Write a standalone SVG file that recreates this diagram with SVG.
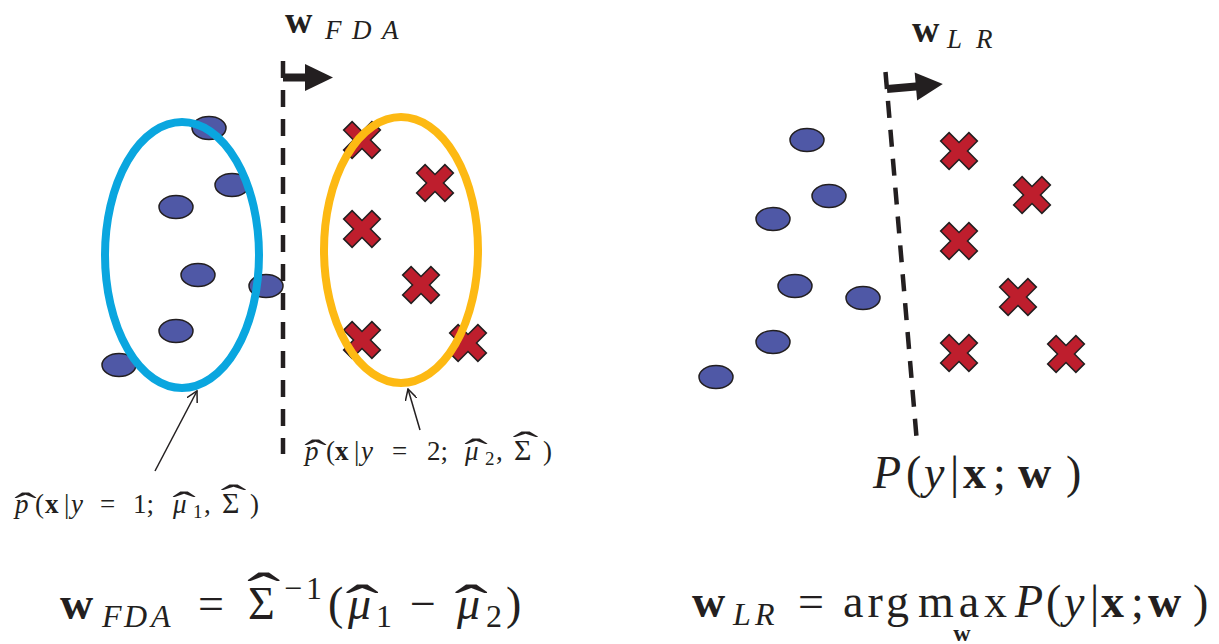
<svg xmlns="http://www.w3.org/2000/svg" width="1219" height="644" viewBox="0 0 1219 644">
<defs>
<style>
.m{font-family:"Liberation Serif","DejaVu Serif",serif;fill:#231F20}
.b{font-weight:bold}
.i{font-style:italic}
.dot{fill:#4F58A6;stroke:#231F20;stroke-width:1.5}
.crs{fill:#BE1E2D;stroke:#231F20;stroke-width:1.5;stroke-linejoin:miter}
.dash{stroke:#231F20;stroke-width:4.5;stroke-dasharray:17 12;fill:none}
.thin{stroke:#231F20;stroke-width:1.5;fill:none}
</style>
<polygon id="x" points="-6,-20 6,-20 6,-6 20,-6 20,6 6,6 6,20 -6,20 -6,6 -20,6 -20,-6 -6,-6" transform="rotate(45)"/>
<text id="hat" class="m" font-size="40" x="0" y="0">ˆ</text>
<marker id="open" viewBox="0 0 12 12" refX="11" refY="6" markerWidth="12" markerHeight="12" markerUnits="userSpaceOnUse" orient="auto">
<path d="M0,0 L11,6 L0,12" fill="none" stroke="#231F20" stroke-width="1.5"/>
</marker>
</defs>
<rect width="1219" height="644" fill="#fff"/>

<g id="left-class1-points">
<ellipse class="dot" cx="209" cy="128" rx="17" ry="11.5"/>
<ellipse class="dot" cx="232" cy="185" rx="17" ry="11.5"/>
<ellipse class="dot" cx="176" cy="207" rx="17" ry="11.5"/>
<ellipse class="dot" cx="198" cy="275" rx="17" ry="11.5"/>
<ellipse class="dot" cx="266" cy="286" rx="17" ry="11.5"/>
<ellipse class="dot" cx="176" cy="331" rx="17" ry="11.5"/>
<ellipse class="dot" cx="119" cy="365" rx="17" ry="11.5"/>
</g>
<g id="left-class2-points">
<use href="#x" class="crs" x="362" y="140"/>
<use href="#x" class="crs" x="435" y="183"/>
<use href="#x" class="crs" x="362" y="229"/>
<use href="#x" class="crs" x="421" y="285"/>
<use href="#x" class="crs" x="362" y="340"/>
<use href="#x" class="crs" x="468" y="343"/>
</g>
<g id="gauss1">
<ellipse cx="182" cy="255" rx="77" ry="133" fill="none" stroke="#0AA6DF" stroke-width="8"/>
</g>
<g id="gauss2">
<ellipse cx="401" cy="250" rx="77" ry="133" fill="none" stroke="#FDB913" stroke-width="8"/>
</g>

<g id="fda-boundary">
<line class="dash" x1="283" y1="61" x2="283" y2="454"/>
<rect x="283" y="73.5" width="24" height="8" fill="#231F20"/>
<polygon points="305,64 333,77.5 305,91" fill="#231F20"/>
</g>

<g id="right-class1-points">
<ellipse class="dot" cx="807" cy="140" rx="17" ry="11.5"/>
<ellipse class="dot" cx="829" cy="196" rx="17" ry="11.5"/>
<ellipse class="dot" cx="773" cy="219" rx="17" ry="11.5"/>
<ellipse class="dot" cx="795" cy="286" rx="17" ry="11.5"/>
<ellipse class="dot" cx="863" cy="298" rx="17" ry="11.5"/>
<ellipse class="dot" cx="773" cy="342" rx="17" ry="11.5"/>
<ellipse class="dot" cx="716" cy="377" rx="17" ry="11.5"/>
</g>
<g id="right-class2-points">
<use href="#x" class="crs" x="959" y="151"/>
<use href="#x" class="crs" x="1032" y="195"/>
<use href="#x" class="crs" x="959" y="241"/>
<use href="#x" class="crs" x="1018" y="297"/>
<use href="#x" class="crs" x="959" y="353"/>
<use href="#x" class="crs" x="1066" y="354"/>
</g>
<g id="lr-boundary">
<line class="dash" x1="885.5" y1="72" x2="917" y2="443"/>
<g transform="rotate(-5 887 89)">
<rect x="887" y="85" width="32" height="8" fill="#231F20"/>
<polygon points="916,75 943,89 916,103" fill="#231F20"/>
</g>
</g>

<g id="connectors">
<line class="thin" x1="155" y1="471" x2="197" y2="391" marker-end="url(#open)"/>
<line class="thin" x1="420" y1="430" x2="408" y2="389" marker-end="url(#open)"/>
</g>

<g id="top-labels">
<text class="m" font-size="38"><tspan class="b" x="285" y="33">w</tspan><tspan class="i" font-size="27" x="325" y="39">F</tspan><tspan class="i" font-size="27" x="352" y="39">D</tspan><tspan class="i" font-size="27" x="382" y="39">A</tspan></text>
<text class="m" font-size="38"><tspan class="b" x="912" y="42">w</tspan><tspan class="i" font-size="27" x="947" y="48">L</tspan><tspan class="i" font-size="27" x="976" y="48">R</tspan></text>
</g>

<g id="label-p1">
<text class="m" font-size="27"><tspan class="i" x="15" y="513">p</tspan><tspan x="35" y="513">(</tspan><tspan class="b" x="45" y="513">x</tspan><tspan x="64" y="513">|</tspan><tspan class="i" x="71" y="513">y</tspan><tspan x="100" y="513">=</tspan><tspan x="133" y="513">1;</tspan><tspan class="i" x="173" y="513">μ</tspan><tspan font-size="19" x="193" y="518">1</tspan><tspan x="204" y="513">,</tspan><tspan x="222" y="513" font-size="30">Σ</tspan><tspan x="250" y="513">)</tspan></text>
<use href="#hat" transform="translate(14.3,518.3) scale(1.69,0.9)"/>
<use href="#hat" transform="translate(172.2,517.3) scale(1.77,0.9)"/>
<use href="#hat" transform="translate(220.5,510.3) scale(1.95,0.9)"/>
</g>
<g id="label-p2">
<text class="m" font-size="27"><tspan class="i" x="305" y="460">p</tspan><tspan x="326" y="460">(</tspan><tspan class="b" x="335" y="460">x</tspan><tspan x="354" y="460">|</tspan><tspan class="i" x="361" y="460">y</tspan><tspan x="392" y="460">=</tspan><tspan x="427" y="460">2;</tspan><tspan class="i" x="465" y="460">μ</tspan><tspan font-size="19" x="485" y="465">2</tspan><tspan x="496" y="460">,</tspan><tspan x="514" y="460" font-size="30">Σ</tspan><tspan x="543" y="460">)</tspan></text>
<use href="#hat" transform="translate(304.3,465.3) scale(1.69,0.9)"/>
<use href="#hat" transform="translate(464.2,464.3) scale(1.77,0.9)"/>
<use href="#hat" transform="translate(512.5,457.3) scale(1.95,0.9)"/>
</g>

<g id="label-lr">
<text class="m" font-size="46"><tspan class="i" x="873" y="488">P</tspan><tspan x="906" y="488">(</tspan><tspan class="i" x="924" y="488">y</tspan><tspan x="950" y="488">|</tspan><tspan class="b" x="963" y="488">x</tspan><tspan x="993" y="488">;</tspan><tspan class="b" x="1018" y="488">w</tspan><tspan x="1066" y="488">)</tspan></text>
</g>

<g id="formula-fda">
<text class="m" font-size="46"><tspan class="b" x="60" y="619">w</tspan><tspan class="i" font-size="32" x="102" y="627">F</tspan><tspan class="i" font-size="32" x="124" y="627">D</tspan><tspan class="i" font-size="32" x="151" y="627">A</tspan><tspan x="198" y="619">=</tspan><tspan x="248" y="619">Σ</tspan><tspan font-size="32" x="284" y="599">−</tspan><tspan font-size="32" x="306" y="599">1</tspan><tspan x="328" y="619">(</tspan><tspan class="i" x="348" y="619">μ</tspan><tspan font-size="32" x="376" y="627">1</tspan><tspan x="410" y="619">−</tspan><tspan class="i" x="457" y="619">μ</tspan><tspan font-size="32" x="486" y="627">2</tspan><tspan x="506" y="619">)</tspan></text>
<use href="#hat" transform="translate(247,612) scale(2.5,1.4)"/>
<use href="#hat" transform="translate(345.5,624) scale(2.5,1.4)"/>
<use href="#hat" transform="translate(454.5,624) scale(2.5,1.4)"/>
</g>

<g id="formula-lr">
<text class="m" font-size="46"><tspan class="b" x="692" y="617">w</tspan><tspan class="i" font-size="32" x="733" y="625">L</tspan><tspan class="i" font-size="32" x="755" y="625">R</tspan><tspan x="798" y="617">=</tspan><tspan x="843" y="617" textLength="66">arg</tspan><tspan x="918" y="617" textLength="89">max</tspan><tspan class="i" x="1015" y="617">P</tspan><tspan x="1046" y="617">(</tspan><tspan class="i" x="1064" y="617">y</tspan><tspan x="1090" y="617">|</tspan><tspan class="b" x="1101" y="617">x</tspan><tspan x="1131" y="617">;</tspan><tspan class="b" x="1148" y="617">w</tspan><tspan x="1193" y="617">)</tspan></text>
<text class="m b" font-size="24" x="962" y="641" text-anchor="middle">w</text>
</g>
</svg>
